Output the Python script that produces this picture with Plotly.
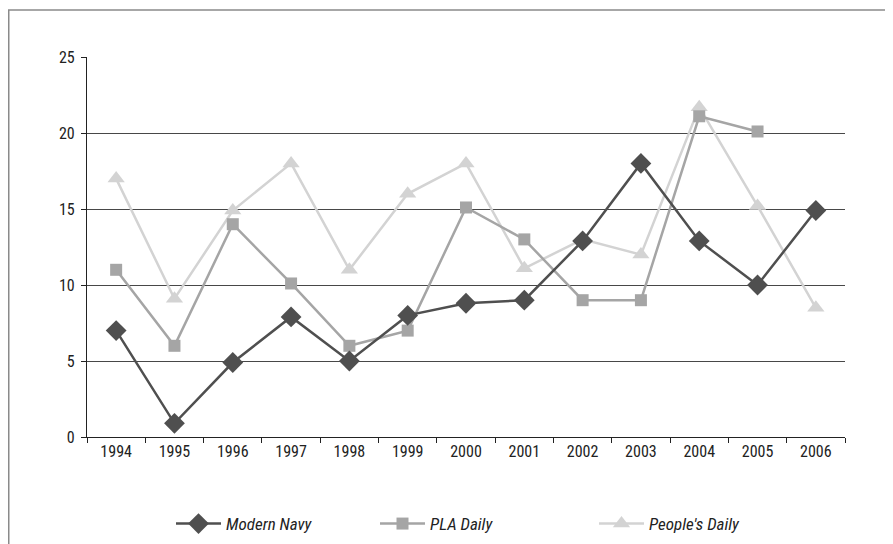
import plotly.graph_objects as go

years = ["1994", "1995", "1996", "1997", "1998", "1999", "2000",
         "2001", "2002", "2003", "2004", "2005", "2006"]
modern_navy = [7, 0.9, 4.9, 7.9, 5, 8, 8.8, 9, 12.9, 18, 12.9, 10, 14.9]
pla_daily = [11, 6, 14, 10.1, 6, 7, 15.1, 13, 9, 9, 21.1, 20.1, None]
peoples_daily = [17, 9.1, 14.9, 18, 11, 16, 18, 11.1, 13, 12, 21.7, 15.2, 8.5]

FONT = "Roboto Condensed, DejaVu Sans Condensed, sans-serif"

fig = go.Figure()
fig.add_trace(go.Scatter(
    x=years, y=peoples_daily, name="People's Daily", mode="lines+markers",
    line=dict(color="#d3d3d3", width=2.5),
    marker=dict(symbol="triangle-up", size=15, color="#d3d3d3"),
    legend="legend3"))
fig.add_trace(go.Scatter(
    x=years, y=pla_daily, name="PLA Daily", mode="lines+markers",
    line=dict(color="#a5a5a5", width=2.5),
    marker=dict(symbol="square", size=12, color="#a5a5a5"),
    legend="legend2"))
fig.add_trace(go.Scatter(
    x=years, y=modern_navy, name="Modern Navy", mode="lines+markers",
    line=dict(color="#4f4f4f", width=2.5),
    marker=dict(symbol="diamond", size=16, color="#4f4f4f"),
    legend="legend"))

# page has an 8px body margin, so the figure is offset by 8px
OFF = 8
W, H = 893 - OFF, 544 - OFF
L, T = 87 - OFF, 57 - OFF
R = W - (845 - OFF)
B = H - (437 - OFF)
pw, ph = W - L - R, H - T - B

def leg(xpage):
    return dict(orientation="h", x=(xpage - OFF - L) / pw, xanchor="left",
                y=-0.229, yanchor="middle",
                font=dict(family=FONT, size=17, color="#222222", style="italic"),
                itemwidth=45, bgcolor="rgba(0,0,0,0)")

fig.update_layout(
    width=W, height=H,
    margin=dict(l=L, r=R, t=T, b=B, autoexpand=False),
    paper_bgcolor="white", plot_bgcolor="white",
    font=dict(family=FONT, size=16, color="#222222"),
    showlegend=True,
    legend=leg(171), legend2=leg(375), legend3=leg(594),
    xaxis=dict(type="category", range=[-0.5, 12.5], tickson="boundaries",
               showgrid=False, showline=True, linecolor="#222222", linewidth=1.2,
               ticks="outside", ticklen=5, tickcolor="#222222", tickwidth=1.2,
               automargin=False, fixedrange=True),
    yaxis=dict(range=[0, 25], dtick=5, showgrid=True, gridcolor="#484848", gridwidth=1.2,
               showline=True, linecolor="#222222", linewidth=1.2, zeroline=False,
               ticks="outside", ticklen=5, tickcolor="#222222", tickwidth=1.2,
               ticklabelstandoff=3, automargin=False, fixedrange=True),
    shapes=[dict(type="rect", xref="paper", yref="paper", layer="below",
                 x0=(0.75 - L) / pw, x1=(W + 20 - L) / pw,
                 y0=-(H + 20 - (H - B)) / ph, y1=((H - B) - (10 - OFF)) / ph,
                 line=dict(color="#8a8a8a", width=1.5))],
)

fig.write_html("out.html")
